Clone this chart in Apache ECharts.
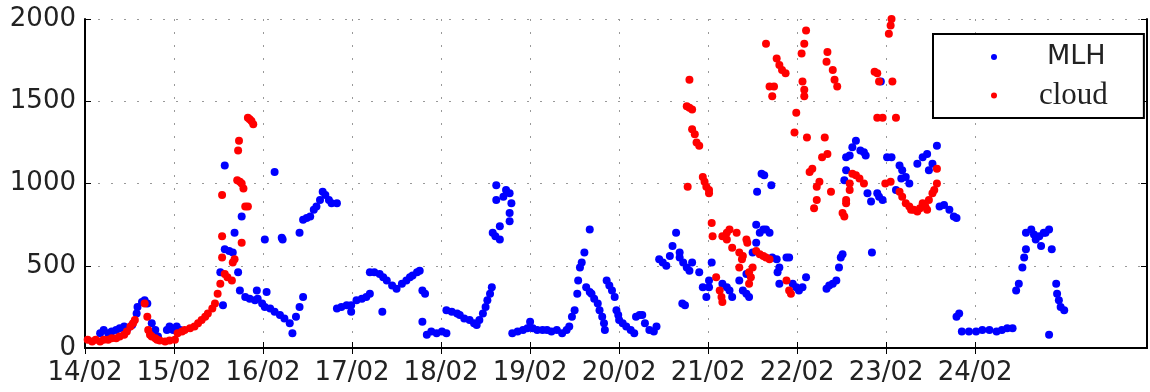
<!DOCTYPE html>
<html>
<head>
<meta charset="utf-8">
<script src="https://cdn.jsdelivr.net/npm/echarts@6/dist/echarts.min.js"></script>
<style>
  html, body { margin: 0; padding: 0; background: #fff; }
  #chart { width: 1150px; height: 392px; }
</style>
</head>
<body>
<div id="chart"></div>
<script>
// x = day of February (decimal), y = height in m
const dayTicks = [14, 15, 16, 17, 18, 19, 20, 21, 22, 23, 24];

const mlhPoints = [
  [14.17, 90], [14.21, 110], [14.26, 90], [14.30, 100], [14.35, 110], [14.39, 120], [14.44, 130], [14.48, 120],
  [14.53, 140], [14.58, 210], [14.59, 250], [14.64, 280], [14.67, 290], [14.70, 270], [14.75, 150], [14.79, 110],
  [14.82, 70], [14.92, 110], [14.95, 130], [14.99, 110], [15.03, 130], [15.07, 110],
  [15.52, 460], [15.55, 260], [15.57, 1110], [15.57, 600], [15.62, 590], [15.66, 580], [15.68, 700], [15.72, 460],
  [15.74, 350], [15.76, 800], [15.80, 310], [15.85, 300], [15.91, 290], [15.93, 350], [15.94, 300], [15.99, 270],
  [16.02, 250], [16.04, 340], [16.08, 240], [16.13, 220], [16.19, 200], [16.24, 180], [16.30, 150], [16.33, 90],
  [16.02, 660], [16.13, 1070], [16.21, 670], [16.22, 660],
  [16.37, 190], [16.41, 250], [16.45, 310],
  [16.41, 700], [16.45, 780], [16.49, 790], [16.53, 800], [16.57, 840], [16.60, 860], [16.64, 900], [16.67, 950],
  [16.70, 930], [16.74, 900], [16.77, 880], [16.83, 880],
  [16.83, 240], [16.88, 250], [16.94, 260], [16.99, 220], [16.99, 260], [17.05, 290], [17.11, 300], [17.16, 310],
  [17.20, 330], [17.20, 460], [17.25, 460], [17.31, 450], [17.35, 430], [17.39, 410], [17.45, 380], [17.50, 360],
  [17.56, 390], [17.61, 410], [17.65, 430], [17.68, 440], [17.73, 460], [17.76, 470], [17.34, 220],
  [17.79, 350], [17.82, 330], [17.79, 160], [17.84, 80], [17.89, 100], [17.95, 90], [18.01, 100], [18.06, 90],
  [18.06, 230], [18.12, 220], [18.18, 210], [18.21, 200], [18.26, 180], [18.32, 170], [18.37, 150], [18.40, 140],
  [18.43, 170], [18.47, 210], [18.50, 250], [18.52, 290], [18.55, 330], [18.57, 370],
  [18.62, 990], [18.62, 900], [18.66, 740], [18.58, 700], [18.61, 680], [18.66, 660], [18.77, 940], [18.79, 880],
  [18.77, 820], [18.77, 770], [18.73, 960], [18.70, 920],
  [18.80, 90], [18.86, 100], [18.92, 110], [18.97, 120], [19.00, 160], [19.03, 120], [19.08, 110], [19.14, 110],
  [19.19, 110], [19.24, 100], [19.30, 110], [19.36, 90], [19.41, 110], [19.44, 130], [19.47, 190], [19.50, 230],
  [19.53, 330], [19.54, 410], [19.56, 490], [19.58, 520], [19.61, 580], [19.67, 720],
  [19.63, 370], [19.67, 340], [19.69, 330], [19.72, 300], [19.76, 270], [19.78, 230], [19.81, 190], [19.83, 150],
  [19.84, 110], [19.86, 410], [19.89, 380], [19.92, 350], [19.95, 310], [19.97, 230], [19.99, 200], [20.00, 170],
  [20.04, 150], [20.08, 130], [20.13, 110], [20.17, 90], [20.19, 190], [20.23, 200], [20.26, 200], [20.29, 150],
  [20.34, 110], [20.39, 100], [20.42, 130],
  [20.45, 540], [20.49, 520], [20.53, 500], [20.57, 560], [20.60, 620], [20.64, 700], [20.68, 580], [20.68, 550],
  [20.72, 520], [20.76, 490], [20.79, 470], [20.82, 520], [20.71, 270], [20.74, 260],
  [20.90, 460], [20.94, 370], [20.98, 310], [21.04, 520], [21.01, 410], [21.01, 370],
  [21.16, 390], [21.21, 370], [21.24, 350], [21.27, 310], [21.35, 410], [21.39, 350], [21.43, 330], [21.46, 310],
  [21.43, 450], [21.54, 750], [21.58, 700], [21.62, 720], [21.65, 720], [21.69, 700], [21.54, 640], [21.50, 580],
  [21.60, 1060], [21.63, 1050], [21.71, 990], [21.55, 950],
  [21.72, 550], [21.77, 540], [21.80, 490], [21.78, 460], [21.80, 390], [21.88, 550], [21.91, 550], [21.95, 390],
  [21.99, 370], [22.02, 350], [22.06, 370], [22.10, 430],
  [22.33, 360], [22.36, 380], [22.40, 390], [22.44, 410], [22.47, 490], [22.49, 550], [22.51, 570],
  [22.53, 1020], [22.55, 1080], [22.55, 1160], [22.59, 1170], [22.62, 1220], [22.66, 1260], [22.71, 1200],
  [22.75, 1190], [22.77, 1170], [22.79, 940], [22.83, 890], [22.90, 940], [22.92, 920], [22.96, 900], [22.84, 580],
  [22.94, 1620], [23.01, 1160], [23.06, 1160],
  [23.11, 960], [23.15, 1110], [23.18, 1080], [23.22, 1040], [23.17, 1030], [23.26, 1000],
  [23.35, 1120], [23.41, 1160], [23.46, 1180], [23.48, 1080], [23.52, 1120], [23.57, 1230],
  [23.60, 860], [23.65, 870], [23.71, 840], [23.76, 800], [23.79, 790],
  [23.79, 190], [23.82, 210], [23.85, 100], [23.93, 100], [24.01, 100], [24.08, 110], [24.16, 110], [24.24, 100],
  [24.30, 110], [24.36, 120], [24.42, 120],
  [24.46, 350], [24.49, 390], [24.53, 490], [24.55, 550], [24.57, 600], [24.57, 700], [24.63, 720], [24.66, 690],
  [24.68, 660], [24.72, 680], [24.74, 620], [24.77, 700], [24.79, 700], [24.83, 720], [24.86, 600], [24.91, 390],
  [24.92, 330], [24.94, 290], [24.96, 250], [25.00, 230], [24.83, 80]
];

const cloudPoints = [
  [14.03, 50], [14.08, 40], [14.12, 50], [14.17, 40], [14.21, 50], [14.26, 50], [14.30, 60], [14.35, 60],
  [14.39, 70], [14.44, 80], [14.47, 100], [14.51, 130], [14.54, 150], [14.56, 170],
  [14.67, 270], [14.70, 190], [14.71, 110], [14.73, 80], [14.75, 70], [14.79, 60], [14.81, 50], [14.84, 45],
  [14.90, 40], [14.95, 45], [15.01, 50], [15.04, 90], [15.09, 100], [15.12, 110], [15.18, 120], [15.23, 130],
  [15.27, 150], [15.31, 170], [15.35, 190], [15.38, 210], [15.43, 240], [15.46, 270], [15.49, 330], [15.52, 390],
  [15.54, 550], [15.54, 680], [15.54, 930], [15.57, 450], [15.60, 430], [15.65, 410], [15.66, 520], [15.68, 540],
  [15.71, 1020], [15.72, 1200], [15.73, 1260], [15.74, 1010], [15.76, 1000], [15.78, 970], [15.80, 860],
  [15.83, 860], [15.76, 640], [15.83, 1400], [15.85, 1390], [15.87, 1380], [15.89, 1360],
  [20.77, 980], [20.79, 1630], [20.76, 1470], [20.79, 1460], [20.82, 1450], [20.82, 1330], [20.85, 1300],
  [20.87, 1250], [20.90, 1230], [20.94, 1040], [20.96, 1010], [20.98, 980], [21.01, 960], [21.01, 940],
  [21.04, 760], [21.05, 680], [21.09, 430], [21.13, 350], [21.15, 310], [21.16, 280], [21.16, 680], [21.21, 660],
  [21.21, 700], [21.24, 720], [21.27, 610], [21.32, 700], [21.35, 580], [21.38, 540], [21.39, 560], [21.43, 660],
  [21.44, 640], [21.35, 490], [21.46, 460], [21.48, 430], [21.50, 490], [21.46, 390], [21.54, 590], [21.58, 570],
  [21.62, 560], [21.65, 550], [21.69, 540], [21.88, 410], [21.91, 350], [21.93, 330],
  [21.65, 1850], [21.77, 1760], [21.80, 1720], [21.83, 1690], [21.87, 1670], [21.69, 1590], [21.74, 1590],
  [21.72, 1530],
  [22.10, 1930], [22.08, 1850], [22.05, 1790], [22.06, 1620], [22.08, 1570], [22.08, 1530], [21.99, 1430],
  [21.97, 1310], [22.11, 1280], [22.31, 1280], [22.28, 1160], [22.34, 1180], [22.17, 1090], [22.14, 1070],
  [22.25, 1010], [22.22, 980], [22.22, 900], [22.19, 850], [22.38, 950], [22.34, 1800], [22.33, 1740],
  [22.40, 1690], [22.42, 1630], [22.45, 1590],
  [22.51, 820], [22.53, 800], [22.55, 880], [22.55, 900], [22.59, 1000], [22.59, 960], [22.62, 1060],
  [22.66, 1050], [22.70, 1030], [22.75, 1000],
  [22.87, 1680], [22.90, 1670], [22.92, 1620], [23.07, 1620], [22.90, 1400], [22.96, 1400], [23.11, 1400],
  [23.03, 1910], [23.06, 2000], [23.05, 1960],
  [22.99, 1000], [23.05, 1010], [23.15, 950], [23.18, 920], [23.22, 880], [23.26, 860], [23.28, 840],
  [23.31, 840], [23.35, 830], [23.38, 850], [23.41, 880], [23.44, 860], [23.46, 840], [23.48, 900],
  [23.52, 940], [23.54, 960], [23.57, 1000], [23.57, 1090]
];

const chart = echarts.init(document.getElementById('chart'));

const tickFont = { fontFamily: 'DejaVu Sans', fontSize: 26, color: '#222' };
const dotted = { show: true, lineStyle: { color: '#999', width: 1, type: [2, 11] } };
const boxLine = { show: true, lineStyle: { color: '#000', width: 2 } };

const option = {
  animation: false,
  backgroundColor: '#fff',
  grid: { left: 85, right: 3, top: 19, bottom: 44 },
  legend: {
    orient: 'vertical',
    left: 933,
    top: 34,
    padding: [8, 36, 7, 58],
    itemGap: 8,
    itemWidth: 6,
    itemHeight: 6,
    icon: 'circle',
    backgroundColor: '#fff',
    borderColor: '#000',
    borderWidth: 2,
    data: [
      { name: 'MLH', textStyle: { fontFamily: 'DejaVu Sans', fontSize: 27, lineHeight: 30, color: '#222', padding: [0, 0, 0, 45] } },
      { name: 'cloud', textStyle: { fontFamily: 'Liberation Serif', fontSize: 31, lineHeight: 30, color: '#222', padding: [0, 0, 0, 37] } }
    ]
  },
  xAxis: [
    {
      type: 'value',
      min: 14,
      max: 25.93,
      position: 'bottom',
      axisLine: boxLine,
      axisTick: { show: true, inside: true, length: 6, customValues: dayTicks, lineStyle: { color: '#000' } },
      axisLabel: {
        ...tickFont,
        margin: 12,
        customValues: dayTicks,
        formatter: v => Math.round(v) + '/02'
      },
      splitLine: dotted
    },
    {
      type: 'value',
      min: 14,
      max: 25.93,
      position: 'top',
      axisLine: boxLine,
      axisTick: { show: true, inside: true, length: 6, customValues: dayTicks, lineStyle: { color: '#000' } },
      axisLabel: { show: false },
      splitLine: { show: false }
    }
  ],
  yAxis: [
    {
      type: 'value',
      min: 0,
      max: 2000,
      interval: 500,
      position: 'left',
      axisLine: boxLine,
      axisTick: { show: true, inside: true, length: 6, lineStyle: { color: '#000' } },
      axisLabel: { ...tickFont, margin: 9, formatter: v => String(v) },
      splitLine: dotted
    },
    {
      type: 'value',
      min: 0,
      max: 2000,
      interval: 500,
      position: 'right',
      axisLine: boxLine,
      axisTick: { show: true, inside: true, length: 6, lineStyle: { color: '#000' } },
      axisLabel: { show: false },
      splitLine: { show: false }
    }
  ],
  series: [
    {
      name: 'MLH',
      type: 'scatter',
      symbolSize: 8,
      itemStyle: { color: '#0000ff', opacity: 1 },
      data: mlhPoints
    },
    {
      name: 'cloud',
      type: 'scatter',
      symbolSize: 8,
      itemStyle: { color: '#ff0000', opacity: 1 },
      data: cloudPoints
    }
  ]
};

chart.setOption(option);
</script>
</body>
</html>
